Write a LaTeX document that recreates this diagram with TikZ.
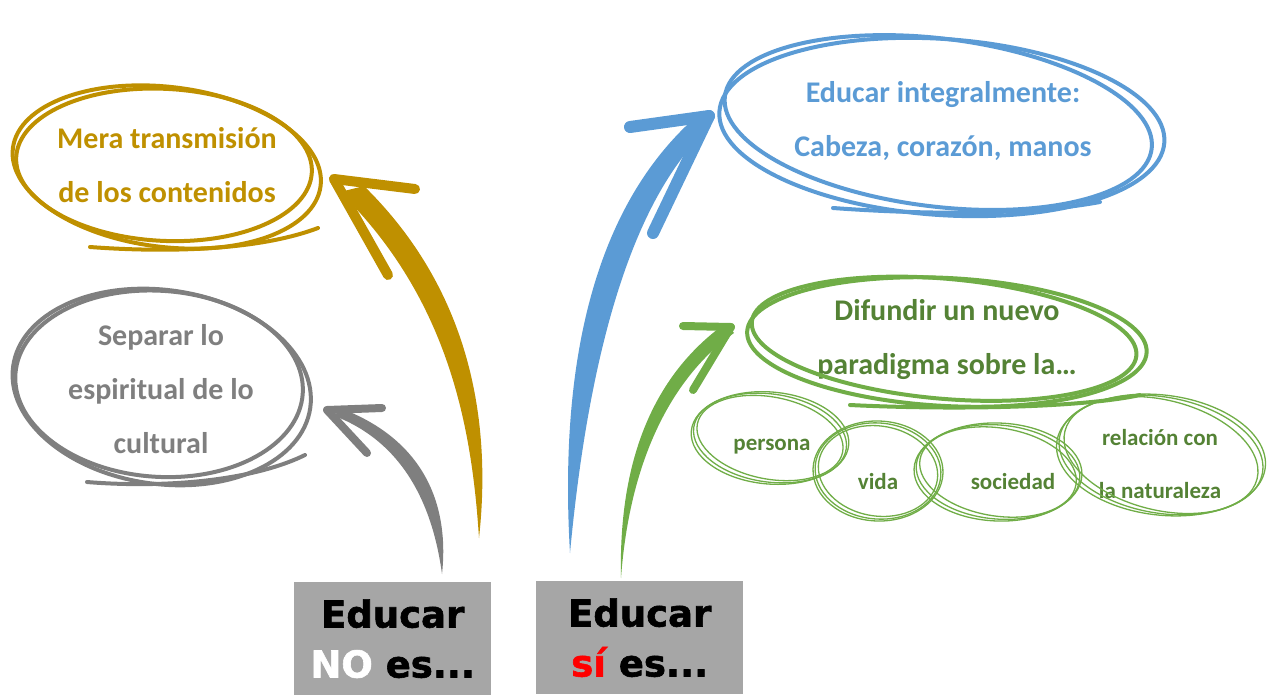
\documentclass[tikz,border=0pt]{standalone}
\usepackage{fontspec}
\setmainfont{Carlito}
\newfontfamily\boxfont[BoldFeatures={FakeBold=1.6}]{DejaVu Sans}
\usetikzlibrary{shapes.geometric}

\definecolor{oro}{HTML}{BF9000}
\definecolor{gris}{HTML}{7F7F7F}
\definecolor{azul}{HTML}{5B9BD5}
\definecolor{verde}{HTML}{70AD47}
\definecolor{verdeosc}{HTML}{548235}
\definecolor{caja}{HTML}{A6A6A6}
\definecolor{rojo}{HTML}{FF0000}

\begin{document}
\begin{tikzpicture}[x=1pt,y=-1pt,
  idea/.style={align=center,font=\bfseries\fontsize{30}{54}\selectfont},
  small/.style={align=center,text=verdeosc,font=\bfseries\fontsize{23}{53}\selectfont},
  ring/.style={line width=4pt,line cap=round},
  thin ring/.style={line width=1.3pt,line cap=round},
  barb/.style={line cap=round},
  caja box/.style={fill=caja,anchor=north west,minimum height=113pt,inner sep=0pt,
    align=center,font=\boxfont\bfseries\fontsize{37}{50}\selectfont}]
  \useasboundingbox (0,0) rectangle (1268,694);

  % textos
  \node[idea,text=oro] (mera) at (167,165) {Mera transmisión\\de los contenidos};
  \node[idea,text=gris] (separar) at (161,389) {Separar lo\\espiritual de lo\\cultural};
  \node[idea,text=azul] (integral) at (943,121) {Educar integralmente:\\Cabeza, corazón, manos};
  \node[idea,text=verdeosc] (difundir) at (947,340) {Difundir un nuevo\\paradigma sobre la…};
  \node[small] (persona) at (772,447) {persona};
  \node[small] (vida) at (878,482) {vida};
  \node[small] (sociedad) at (1013,482) {sociedad};
  \node[small] (relacion) at (1160,464) {relación con\\la naturaleza};

  \node[caja box,minimum width=197pt] (no) at (294,582) {Educar\\\textcolor{white}{NO} es...};
  \node[caja box,minimum width=207pt] (si) at (536,581) {Educar\\\textcolor{rojo}{sí} es...};

  % anillos grandes
  \foreach \rx/\ry/\a/\dx/\dy in {155/80/-7/0/2, 148/76/-3/-3/0}
    \draw[oro,ring,rotate around={\a:(167,165)}] (167+\dx,165+\dy) ellipse [x radius=\rx pt, y radius=\ry pt];
  \draw[oro,ring] (90,247) .. controls (170,253) and (260,250) .. (318,228);

  \foreach \rx/\ry/\a/\dx/\dy in {150/97/-8/0/2, 144/93/-4/-3/-1}
    \draw[gris,ring,rotate around={\a:(162,385)}] (162+\dx,385+\dy) ellipse [x radius=\rx pt, y radius=\ry pt];
  \draw[gris,ring] (87,482) .. controls (160,488) and (250,482) .. (305,455);

  \foreach \rx/\ry/\a/\dx/\dy in {223/88/-4/0/2, 215/84/-7/-4/-2}
    \draw[azul,ring,rotate around={\a:(942,125)}] (942+\dx,125+\dy) ellipse [x radius=\rx pt, y radius=\ry pt];
  \draw[azul,ring] (833,208) .. controls (930,215) and (1030,215) .. (1100,202);

  \foreach \rx/\ry/\a/\dx/\dy in {200/64/-3/0/2, 193/60/-5/-3/-1}
    \draw[verde,ring,rotate around={\a:(947,340)}] (947+\dx,340+\dy) ellipse [x radius=\rx pt, y radius=\ry pt];
  \draw[verde,ring] (850,405) .. controls (950,410) and (1080,408) .. (1140,395);

  % anillos pequenos
  \foreach \rx/\ry/\a in {77/44/-8, 74/41/-11, 79/46/-5}
    \draw[verde,thin ring,rotate around={\a:(770,438)}] (770,438) ellipse [x radius=\rx pt, y radius=\ry pt];
  \foreach \rx/\ry/\a in {63/48/-5, 60/45/-9, 65/50/-2}
    \draw[verde,thin ring,rotate around={\a:(878,471)}] (878,471) ellipse [x radius=\rx pt, y radius=\ry pt];
  \foreach \rx/\ry/\a in {82/47/-5, 79/44/-9, 84/49/-2}
    \draw[verde,thin ring,rotate around={\a:(998,472)}] (998,472) ellipse [x radius=\rx pt, y radius=\ry pt];
  \foreach \rx/\ry/\a in {103/58/-10, 99/55/-14, 105/60/-7}
    \draw[verde,thin ring,rotate around={\a:(1161,455)}] (1161,455) ellipse [x radius=\rx pt, y radius=\ry pt];

  % flechas
  \coordinate (oro-base) at (479,538);
  \coordinate (oro-punta) at (334,179);
  \coordinate (gris-base) at (442,574);
  \coordinate (gris-punta) at (327,410);
  \coordinate (azul-base) at (570,553);
  \coordinate (azul-punta) at (709,116);
  \coordinate (verde-base) at (621,578);
  \coordinate (verde-punta) at (731,327);

  \fill[oro] (oro-base) .. controls (472,430) and (450,300) .. (340,192) -- (364,186)
    .. controls (470,290) and (492,420) .. (oro-base) -- cycle;
  \draw[oro,barb,line width=10pt] (oro-punta) -- (415,189);
  \draw[oro,barb,line width=10pt] (oro-punta) -- (388,275);

  \fill[gris] (gris-base) .. controls (432,500) and (400,440) .. (332,415) -- (345,410)
    .. controls (420,440) and (450,500) .. (gris-base) -- cycle;
  \draw[gris,barb,line width=8pt] (gris-punta) -- (382,408);
  \draw[gris,barb,line width=8pt] (gris-punta) -- (367,453);

  \fill[azul] (azul-base) .. controls (558,350) and (600,200) .. (698,115) -- (710,127)
    .. controls (630,200) and (588,360) .. (azul-base) -- cycle;
  \draw[azul,barb,line width=12pt] (azul-punta) -- (630,127);
  \draw[azul,barb,line width=12pt] (azul-punta) -- (653,233);

  \fill[verde] (verde-base) .. controls (618,450) and (660,370) .. (726,323) -- (734,333)
    .. controls (675,375) and (630,455) .. (verde-base) -- cycle;
  \draw[verde,barb,line width=8pt] (verde-punta) -- (683,326);
  \draw[verde,barb,line width=8pt] (verde-punta) -- (693,390);
\end{tikzpicture}
\end{document}
